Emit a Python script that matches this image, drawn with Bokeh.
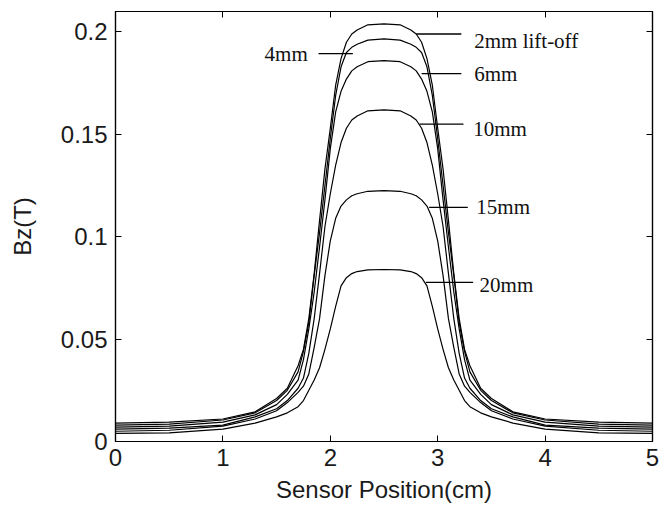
from bokeh.plotting import figure
from bokeh.models import LinearAxis, FixedTicker, Range1d
from bokeh.core.properties import value
from bokeh.embed import file_html
from bokeh.resources import INLINE

# ---- data ----
x_cm = [0, 0.5, 1.0, 1.3, 1.5, 1.6, 1.7, 1.75, 1.8, 1.85, 1.9, 1.95, 2.0, 2.05, 2.1,
        2.15, 2.2, 2.25, 2.35, 2.5, 2.65, 2.75, 2.8, 2.85, 2.9, 2.95, 3.0, 3.05, 3.1,
        3.15, 3.2, 3.25, 3.3, 3.4, 3.5, 3.7, 4.0, 4.5, 5.0]

bz_2mm = [0.009, 0.0095, 0.011, 0.0145, 0.021, 0.026, 0.037, 0.045, 0.060, 0.082,
          0.108, 0.133, 0.153, 0.174, 0.187, 0.195, 0.199, 0.201, 0.2035, 0.204,
          0.2035, 0.201, 0.199, 0.195, 0.187, 0.174, 0.153, 0.133, 0.108, 0.082,
          0.060, 0.045, 0.037, 0.026, 0.021, 0.0145, 0.011, 0.0095, 0.009]
bz_4mm = [0.008, 0.0085, 0.0105, 0.014, 0.020, 0.025, 0.034, 0.044, 0.058, 0.081,
          0.102, 0.125, 0.148, 0.169, 0.183, 0.190, 0.1925, 0.194, 0.196, 0.1966,
          0.196, 0.194, 0.1925, 0.190, 0.183, 0.169, 0.148, 0.125, 0.102, 0.081,
          0.058, 0.044, 0.034, 0.025, 0.020, 0.014, 0.0105, 0.0085, 0.008]
bz_6mm = [0.007, 0.0075, 0.0095, 0.013, 0.018, 0.023, 0.030, 0.040, 0.055, 0.073,
          0.095, 0.118, 0.143, 0.161, 0.171, 0.177, 0.181, 0.183, 0.1855, 0.186,
          0.1855, 0.183, 0.181, 0.177, 0.171, 0.161, 0.143, 0.118, 0.095, 0.073,
          0.055, 0.040, 0.030, 0.023, 0.018, 0.013, 0.0095, 0.0075, 0.007]
bz_10mm = [0.006, 0.0065, 0.008, 0.012, 0.016, 0.020, 0.026, 0.031, 0.043, 0.060,
           0.082, 0.105, 0.121, 0.135, 0.146, 0.153, 0.157, 0.159, 0.1615, 0.162,
           0.1615, 0.159, 0.157, 0.153, 0.146, 0.135, 0.121, 0.105, 0.082, 0.060,
           0.043, 0.031, 0.026, 0.020, 0.016, 0.012, 0.008, 0.0065, 0.006]
bz_15mm = [0.005, 0.0055, 0.0075, 0.011, 0.015, 0.019, 0.024, 0.027, 0.033, 0.046,
           0.060, 0.081, 0.098, 0.109, 0.115, 0.118, 0.120, 0.121, 0.1222, 0.1225,
           0.1222, 0.121, 0.120, 0.118, 0.115, 0.109, 0.098, 0.081, 0.060, 0.046,
           0.033, 0.027, 0.024, 0.019, 0.015, 0.011, 0.0075, 0.0055, 0.005]
bz_20mm = [0.004, 0.0042, 0.006, 0.009, 0.012, 0.014, 0.017, 0.020, 0.025, 0.030,
           0.036, 0.045, 0.055, 0.066, 0.076, 0.080, 0.082, 0.083, 0.0838, 0.084,
           0.0838, 0.083, 0.082, 0.080, 0.076, 0.066, 0.055, 0.045, 0.036, 0.030,
           0.025, 0.020, 0.017, 0.014, 0.012, 0.009, 0.006, 0.0042, 0.004]

series = [bz_2mm, bz_4mm, bz_6mm, bz_10mm, bz_15mm, bz_20mm]

x_ticks = [0, 1, 2, 3, 4, 5]
x_tick_labels = ["0", "1", "2", "3", "4", "5"]
y_ticks = [0, 0.05, 0.1, 0.15, 0.2]
y_tick_labels = ["0", "0.05", "0.1", "0.15", "0.2"]

label_names_right = ["2mm lift-off", "6mm", "10mm", "15mm", "20mm"]
label_names_left = ["4mm"]

# ---- figure ----
p = figure(width=662, height=512, x_range=Range1d(0, 5), y_range=Range1d(0, 0.21),
           output_backend="svg", toolbar_location=None,
           min_border_left=115, min_border_right=10, min_border_top=11, min_border_bottom=71,
           background_fill_color="white", border_fill_color="white",
           outline_line_color="black", outline_line_width=1.2)
p.grid.visible = False

for ys in series:
    p.line(x_cm, ys, line_color="black", line_width=1.2)

# leader lines and labels
p.segment(x0=[2.80, 2.85, 2.83, 2.92, 2.89, 1.89],
          y0=[0.199, 0.1797, 0.155, 0.1143, 0.0777, 0.1894],
          x1=[3.22, 3.22, 3.24, 3.28, 3.33, 2.21],
          y1=[0.199, 0.1797, 0.155, 0.1143, 0.0777, 0.1894],
          line_color="black", line_width=1.3)
p.text(x=[3.34, 3.34, 3.33, 3.36, 3.39], y=[0.1955, 0.1797, 0.1525, 0.1143, 0.0762],
       text=label_names_right, text_font=value("Liberation Serif"), text_font_size="21px",
       text_baseline="middle", text_align="left", text_color="#111111")
p.text(x=[1.79], y=[0.1894], text=label_names_left, text_font=value("Liberation Serif"),
       text_font_size="21px", text_baseline="middle", text_align="right", text_color="#111111")

def style_axis(ax, ticks, labels, show_labels=True):
    ax.ticker = FixedTicker(ticks=ticks)
    ax.major_tick_in = 6
    ax.major_tick_out = 0
    ax.minor_tick_line_color = None
    ax.major_tick_line_color = "black"
    ax.axis_line_color = "black"
    ax.axis_line_width = 1.2
    if show_labels:
        ax.major_label_overrides = {t: l for t, l in zip(ticks, labels)}
        ax.major_label_text_font = "Liberation Sans"
        ax.major_label_text_color = "#1a1a1a"
        ax.major_label_text_font_size = "24px"
    else:
        ax.major_label_text_color = None
        ax.major_label_text_alpha = 0
        ax.major_label_text_font_size = "1px"
        ax.major_label_standoff = 0

xa = p.xaxis[0]
style_axis(xa, x_ticks, x_tick_labels)
xa.major_label_standoff = 7
xa.axis_label = "Sensor Position(cm)"
xa.axis_label_text_font = "Liberation Sans"
xa.axis_label_text_font_size = "24px"
xa.axis_label_text_font_style = "normal"
xa.axis_label_text_color = "#1a1a1a"
xa.axis_label_standoff = 7

ya = p.yaxis[0]
style_axis(ya, y_ticks, y_tick_labels)
ya.major_label_standoff = 8
ya.axis_label = "Bz(T)"
ya.axis_label_text_font = "Liberation Sans"
ya.axis_label_text_font_size = "24px"
ya.axis_label_text_font_style = "normal"
ya.axis_label_text_color = "#1a1a1a"
ya.axis_label_standoff = 22

top = LinearAxis()
style_axis(top, x_ticks, x_tick_labels, show_labels=False)
p.add_layout(top, "above")
right = LinearAxis()
style_axis(right, y_ticks, y_tick_labels, show_labels=False)
p.add_layout(right, "right")

open("out.html", "w").write(file_html(p, INLINE))
